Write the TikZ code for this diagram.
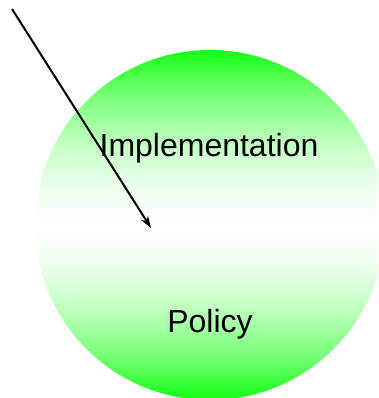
\documentclass[tikz,border=0pt]{standalone}
\usepackage{fontspec}
\setmainfont{Liberation Sans}
\usetikzlibrary{arrows.meta}
% green - white - green fill of the ball
\pgfdeclareverticalshading{ballshade}{100bp}{rgb(0bp)=(0.08,1,0.08); rgb(25bp)=(0.08,1,0.08); rgb(32bp)=(0.5,1,0.5); rgb(39.5bp)=(0.8,1,0.8); rgb(45bp)=(0.94,1,0.94); rgb(50bp)=(1,1,1); rgb(55bp)=(0.94,1,0.94); rgb(60.5bp)=(0.8,1,0.8); rgb(68bp)=(0.5,1,0.5); rgb(75bp)=(0.08,1,0.08); rgb(100bp)=(0.08,1,0.08)}

\begin{document}
\begin{tikzpicture}[x=0.75pt,y=0.75pt,yscale=-1,xscale=1]
\useasboundingbox (0,0) rectangle (378,398);

\begin{scope}
\clip (0,0) rectangle (378,398);
\shade [shading=ballshade]  (210,225) circle [radius=175];
\end{scope}

\node (impl) [anchor=base, font=\fontsize{24}{28}\selectfont] at (209,157) {Implementation};
\node (policy) [anchor=base, font=\fontsize{24}{28}\selectfont] at (210,332) {Policy};

\coordinate (from) at (12,9);
\coordinate (to) at (151,228);
\draw [line width=1.5, -{Stealth[length=9pt,width=6pt]}] (from) -- (to);

\end{tikzpicture}
\end{document}
